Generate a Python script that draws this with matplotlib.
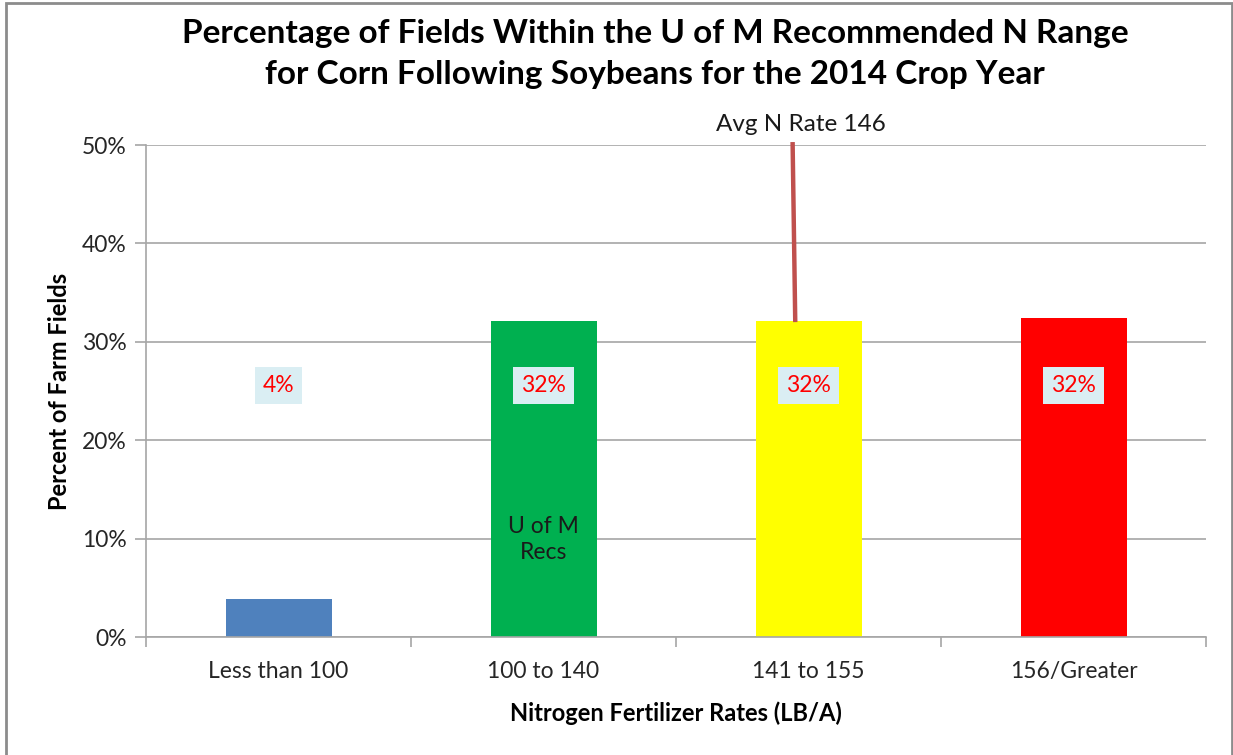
import matplotlib
matplotlib.use("Agg")
import matplotlib.pyplot as plt
from matplotlib.patches import Rectangle
import numpy as np

categories = ["Less than 100", "100 to 140", "141 to 155", "156/Greater"]
values = [3.9, 32.1, 32.1, 32.4]
value_labels = ["4%", "32%", "32%", "32%"]
bar_colors = ["#4F81BD", "#00B050", "#FFFF00", "#FF0000"]
yticks = [0, 10, 20, 30, 40, 50]
avg_rate_label = "Avg N Rate 146"
avg_line_x = [1.94, 1.95]
avg_line_y = [50.3, 32.0]
title = "Percentage of Fields Within the U of M Recommended N Range\nfor Corn Following Soybeans for the 2014 Crop Year"

FONT = ["Lato", "DejaVu Sans"]
plt.rcParams['font.family'] = FONT

fig = plt.figure(figsize=(12.33, 7.55), dpi=100)
ax = fig.add_axes([146/1233, 1-637/755, (1206-146)/1233, (637-145)/755])

x = np.arange(len(categories))
ax.bar(x, values, width=0.4, color=bar_colors, zorder=2)
ax.set_xlim(-0.5, 3.5)
ax.set_ylim(0, 50)
ax.set_yticks(yticks)
ax.set_yticklabels([f"{t}%" for t in yticks], fontsize=16.5, color="#262626")
ax.yaxis.grid(True, color="#A6A6A6", linewidth=1.2, zorder=0)
ax.set_axisbelow(True)

ax.set_xticks(x)
ax.set_xticklabels(categories, fontsize=16.5, color="#262626")
ax.set_xticks(np.arange(-0.5, 4.0, 1.0), minor=True)
ax.tick_params(axis='x', which='major', length=0, pad=17)
ax.tick_params(axis='x', which='minor', length=7, color="#A6A6A6", width=1.2)
ax.tick_params(axis='y', length=8, color="#A6A6A6", width=1.2, pad=6)

for s in ["top", "right"]:
    ax.spines[s].set_visible(False)
for s in ["left", "bottom"]:
    ax.spines[s].set_color("#A6A6A6")
    ax.spines[s].set_linewidth(1.2)

for xi, lab in zip(x, value_labels):
    ax.text(xi, 25.6, lab, ha="center", va="center", fontsize=16.5, color="#FF0000",
            bbox=dict(boxstyle="square,pad=0.35", facecolor="#DAEEF3", edgecolor="none"), zorder=4)

ax.text(1, 9.9, "U of M\nRecs", ha="center", va="center", fontsize=16.5, color="#1a1a1a",
        linespacing=1.3, zorder=4)

ax.plot(avg_line_x, avg_line_y, color="#C0504D", linewidth=3.2, clip_on=False, zorder=5,
        solid_capstyle="butt")
ax.text(avg_line_x[0] + 0.03, 52.1, avg_rate_label, ha="center", va="center", fontsize=17.5,
        color="#1a1a1a", clip_on=False)

ax.set_ylabel("Percent of Farm Fields", fontsize=17, fontweight="bold", labelpad=8)
ax.set_xlabel("Nitrogen Fertilizer Rates (LB/A)", fontsize=17, fontweight="bold", labelpad=14)

fig.text(655/1233, 1-54/755, title, ha="center", va="center", fontsize=24,
         fontweight="bold", linespacing=1.5)

fig.patches.append(Rectangle((6/1233, -0.05), (1232-6)/1233, 1.05 - 3/755, transform=fig.transFigure,
                             fill=False, edgecolor="#8C8C8C", linewidth=2))

fig.savefig("out.png", dpi=100)
